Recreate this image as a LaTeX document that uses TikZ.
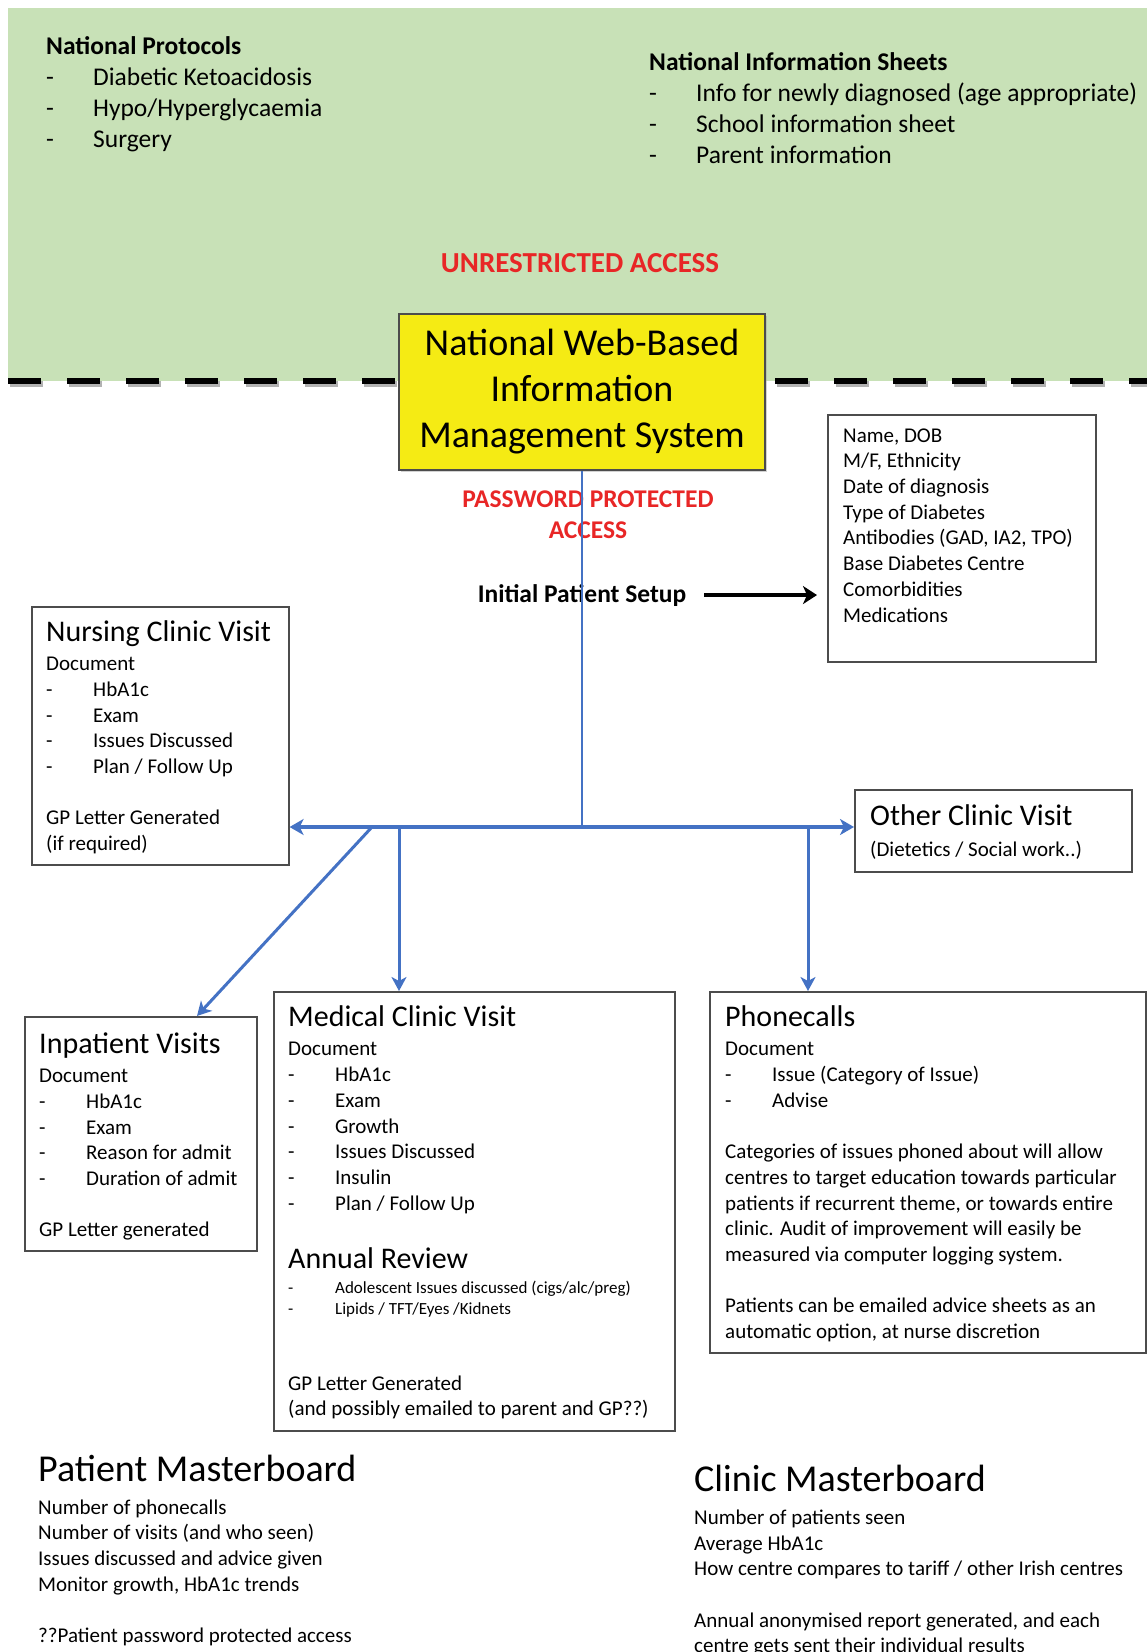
\documentclass[tikz,border=0pt]{standalone}
\usepackage{fontspec}
\setmainfont{Carlito}
\usetikzlibrary{arrows.meta,shadows}
\definecolor{zoneGreen}{RGB}{200,225,183}
\definecolor{imsYellow}{RGB}{245,235,20}
\definecolor{linkBlue}{RGB}{68,114,196}
\definecolor{accRed}{RGB}{232,38,38}
\newcommand{\dashitem}[1]{\makebox[47pt][l]{-}#1}
\tikzset{
  panel/.style={draw=black!70, line width=1.6pt, fill=white, anchor=north west, inner sep=0pt,
                drop shadow={shadow xshift=1.5pt, shadow yshift=-1.5pt, fill=black!35}},
  txt/.style={anchor=north west, align=left, inner sep=0pt, execute at begin node={\strut},
              font=\fontsize{21}{25.7}\selectfont},
  smalltxt/.style={txt, font=\fontsize{17}{21}\selectfont},
  toptxt/.style={txt, font=\fontsize{25.5}{31}\selectfont},
  head/.style={anchor=base west, inner sep=0pt, font=\fontsize{30}{36}\selectfont},
  bighead/.style={anchor=base west, inner sep=0pt, font=\fontsize{38}{46}\selectfont},
  access/.style={anchor=north, align=center, inner sep=0pt, text=accRed, execute at begin node={\strut},
                 font=\bfseries\fontsize{25.5}{30.5}\selectfont},
  bluelink/.style={draw=linkBlue, line width=3pt, -{Stealth[length=14pt,width=15pt,inset=4pt]}},
  blacklink/.style={draw=black, line width=4pt, -{Stealth[length=14pt,width=18pt,inset=4pt]}}
}
\begin{document}
\begin{tikzpicture}[x=1pt,y=-1pt]
\useasboundingbox (0,0) rectangle (1147,1652);
\fill[zoneGreen] (8,8) rectangle (1147,381);
\draw[black!30, line width=6pt, dash pattern=on 33pt off 26pt] (10,384) -- (1147,384);
\draw[black, line width=6pt, dash pattern=on 33pt off 26pt] (8,381) -- (1147,381);

\node[toptxt] (protocols) at (46,36.6) {\textbf{National Protocols}\\ \dashitem{Diabetic Ketoacidosis}\\
  \dashitem{Hypo/Hyperglycaemia}\\ \dashitem{Surgery}};
\node[toptxt] (sheets) at (649,52) {\textbf{National Information Sheets}\\
  \dashitem{Info for newly diagnosed (age appropriate)}\\ \dashitem{School information sheet}\\
  \dashitem{Parent information}};
\node[anchor=base, inner sep=0pt, text=accRed, font=\bfseries\fontsize{29}{35}\selectfont] (unrestricted)
  at (580,272) {UNRESTRICTED ACCESS};

\node[draw=black!70, line width=1.6pt, fill=imsYellow, minimum width=366pt, minimum height=156pt,
  align=center, font=\fontsize{38}{46}\selectfont,
  drop shadow={shadow xshift=1.5pt, shadow yshift=-1.5pt, fill=black!35}] (ims) at (582,392)
  {National Web-Based\\Information\\Management System};
\node[access] (password) at (588,491) {PASSWORD PROTECTED\\ACCESS};
\node[anchor=base, inner sep=0pt, font=\bfseries\fontsize{25.5}{31}\selectfont] (setup) at (582,602)
  {Initial Patient Setup};

\node[panel, minimum width=268pt, minimum height=247pt] (pdata) at (827,414) {};
\node[txt] (pdatatext) at (843,428.3) {Name, DOB\\ M/F, Ethnicity\\ Date of diagnosis\\ Type of Diabetes\\
  Antibodies (GAD, IA2, TPO)\\ Base Diabetes Centre\\ Comorbidities\\ Medications};

\node[panel, minimum width=257pt, minimum height=258pt] (nurse) at (31,606) {};
\node[head] (nursetitle) at (46,641) {Nursing Clinic Visit};
\node[txt] (nursetext) at (46,657) {Document\\ \dashitem{HbA1c}\\ \dashitem{Exam}\\ \dashitem{Issues Discussed}\\
  \dashitem{Plan / Follow Up}\\[25.7pt] GP Letter Generated\\ (if required)};

\node[panel, minimum width=277pt, minimum height=82pt] (other) at (854,789) {};
\node[head] (othertitle) at (870,825) {Other Clinic Visit};
\node[txt] (othertext) at (870,838) {(Dietetics / Social work..)};

\node[panel, minimum width=232pt, minimum height=234pt] (inpat) at (24,1016) {};
\node[head] (inpattitle) at (39,1053) {Inpatient Visits};
\node[txt] (inpattext) at (39,1069) {Document\\ \dashitem{HbA1c}\\ \dashitem{Exam}\\ \dashitem{Reason for admit}\\
  \dashitem{Duration of admit}\\[25.7pt] GP Letter generated};

\node[panel, minimum width=401pt, minimum height=439pt] (medical) at (273,991) {};
\node[head] (medicaltitle) at (288,1026) {Medical Clinic Visit};
\node[txt] (medicaltext) at (288,1042.3) {Document\\ \dashitem{HbA1c}\\ \dashitem{Exam}\\ \dashitem{Growth}\\
  \dashitem{Issues Discussed}\\ \dashitem{Insulin}\\ \dashitem{Plan / Follow Up}};
\node[head] (reviewtitle) at (288,1268) {Annual Review};
\node[smalltxt] (reviewtext) at (288,1280.5) {\dashitem{Adolescent Issues discussed (cigs/alc/preg)}\\
  \dashitem{Lipids / TFT/Eyes /Kidnets}};
\node[txt] (medicalletter) at (288,1375.5) {GP Letter Generated\\ (and possibly emailed to parent and GP??)};

\node[panel, minimum width=436pt, minimum height=361pt] (phone) at (709,991) {};
\node[head] (phonetitle) at (725,1026) {Phonecalls};
\node[txt] (phonetext) at (725,1042.3) {Document\\ \dashitem{Issue (Category of Issue)}\\ \dashitem{Advise}\\[25.7pt]
  Categories of issues phoned about will allow\\ centres to target education towards particular\\
  patients if recurrent theme, or towards entire\\ clinic. Audit of improvement will easily be\\
  measured via computer logging system.\\[25.7pt] Patients can be emailed advice sheets as an\\
  automatic option, at nurse discretion};

\node[bighead] (patboard) at (38,1481) {Patient Masterboard};
\node[txt] (patboardtext) at (38,1499.3) {Number of phonecalls\\ Number of visits (and who seen)\\
  Issues discussed and advice given\\ Monitor growth, HbA1c trends\\[25.7pt] ??Patient password protected access};
\node[bighead] (clinboard) at (694,1491) {Clinic Masterboard};
\node[txt] (clinboardtext) at (694,1509.5) {Number of patients seen\\ Average HbA1c\\
  How centre compares to tariff / other Irish centres\\[25.7pt] Annual anonymised report generated, and each\\
  centre gets sent their individual results};

\coordinate (hub) at (581,827);
\coordinate (brA) at (372,827);
\coordinate (brB) at (399,827);
\coordinate (brC) at (808,827);
\draw[linkBlue, line width=2pt] (ims) -- (ims |- hub);
\draw[draw=linkBlue, line width=4pt, {Stealth[length=14pt,width=16pt,inset=4pt]}-{Stealth[length=14pt,width=16pt,inset=4pt]}]
  (nurse.east |- hub) -- (other.west |- hub);
\draw[bluelink] (brA) -- ([xshift=173pt]inpat.north west);
\draw[bluelink] (brB) -- (brB |- medical.north);
\draw[bluelink] (brC) -- (brC |- phone.north);
\draw[blacklink] ([xshift=18pt]setup.east) -- ([xshift=-10pt]pdata.west |- setup.east);
\end{tikzpicture}
\end{document}
